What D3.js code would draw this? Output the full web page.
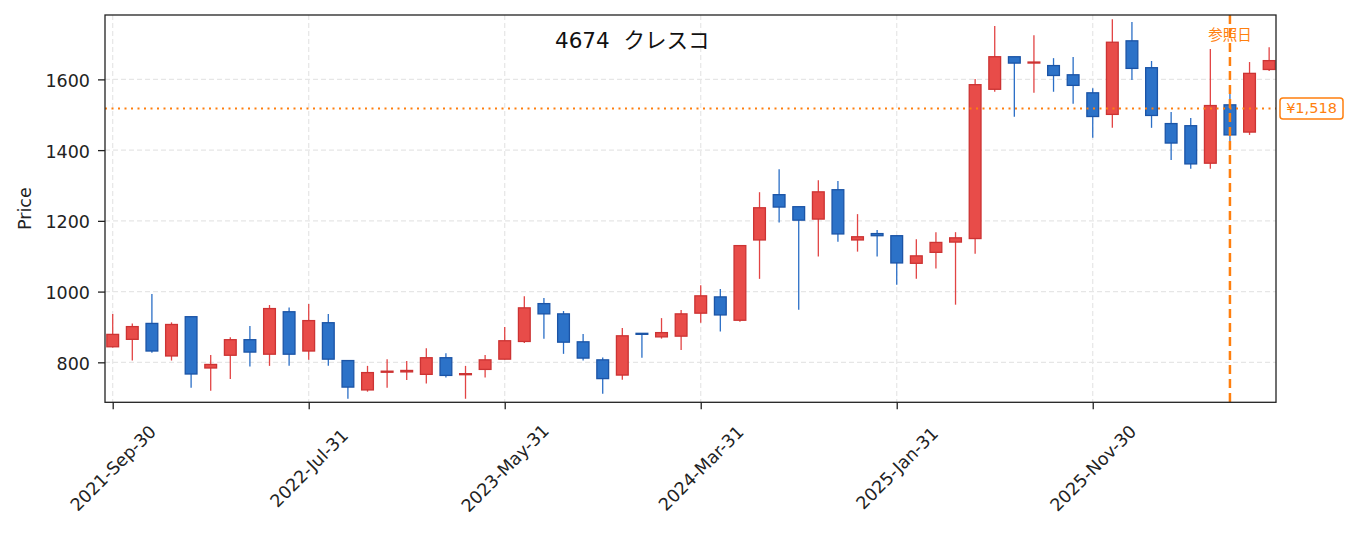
<!DOCTYPE html>
<html>
<head>
<meta charset="utf-8">
<script src="https://cdn.jsdelivr.net/npm/d3@7"></script>
<style>
  html, body { margin: 0; padding: 0; background: #fff; }
  svg { display: block; }
  text { font-family: "DejaVu Sans", "Noto Sans CJK JP", sans-serif; }
</style>
</head>
<body>
<svg id="chart" width="1355" height="533"></svg>
<script>
// ---- data (monthly candles) ----
const dates = [
  "2021-09-30","2021-10-31","2021-11-30","2021-12-31","2022-01-31","2022-02-28","2022-03-31","2022-04-30","2022-05-31","2022-06-30",
  "2022-07-31","2022-08-31","2022-09-30","2022-10-31","2022-11-30","2022-12-31","2023-01-31","2023-02-28","2023-03-31","2023-04-30",
  "2023-05-31","2023-06-30","2023-07-31","2023-08-31","2023-09-30","2023-10-31","2023-11-30","2023-12-31","2024-01-31","2024-02-29",
  "2024-03-31","2024-04-30","2024-05-31","2024-06-30","2024-07-31","2024-08-31","2024-09-30","2024-10-31","2024-11-30","2024-12-31",
  "2025-01-31","2025-02-28","2025-03-31","2025-04-30","2025-05-31","2025-06-30","2025-07-31","2025-08-31","2025-09-30","2025-10-31",
  "2025-11-30","2025-12-31","2026-01-31","2026-02-28","2026-03-31","2026-04-30","2026-05-31","2026-06-30","2026-07-31","2026-08-31"
];
const open = [844,865,910,818,929,784,820,864,823,943,
  832,912,805,722,772,773,766,813,765,780,
  809,859,966,937,858,807,764,882,872,874,
  939,985,919,1146,1274,1240,1205,1288,1146,1164,
  1158,1080,1111,1140,1150,1572,1664,1647,1639,1613,
  1562,1501,1709,1633,1475,1469,1363,1528,1451,1628];
const high = [937,910,993,913,929,821,871,903,962,955,
  965,937,805,790,809,804,840,826,790,821,
  900,987,982,945,880,814,897,882,925,948,
  1018,1007,1130,1281,1346,1240,1315,1313,1219,1174,
  1158,1148,1168,1168,1601,1751,1664,1725,1660,1663,
  1575,1770,1762,1652,1508,1491,1686,1560,1649,1691];
const low = [842,805,827,805,728,720,753,788,790,790,
  807,790,697,717,728,750,740,757,697,757,
  808,855,867,824,805,711,751,813,867,835,
  912,887,915,1036,1195,949,1099,1141,1113,1099,
  1019,1036,1065,963,1107,1565,1494,1562,1565,1531,
  1435,1463,1598,1463,1372,1347,1347,1419,1443,1624];
const close = [879,901,832,907,767,794,864,829,952,823,
  918,809,730,771,775,777,813,763,768,807,
  861,954,937,857,812,754,875,880,884,937,
  988,934,1130,1237,1239,1202,1282,1163,1155,1158,
  1081,1101,1139,1152,1585,1664,1646,1649,1611,1583,
  1495,1705,1631,1498,1420,1361,1526,1443,1617,1653];
const yTicks = [800, 1000, 1200, 1400, 1600];
const xTickIdx = [0, 10, 20, 30, 40, 50];
const refPrice = 1518;
const refDate = "2026-06-30";
const titleText = "4674\u00a0\u00a0クレスコ";

// ---- layout ----
const L = 105, R = 1276, T = 15, B = 402.3;
const svg = d3.select("#chart");
const parse = d3.timeParse("%Y-%m-%d");
const fmt = d3.timeFormat("%Y-%b-%d");

const x = d3.scaleLinear().domain([-0.393, 59.35]).range([L, R]);
const y = d3.scaleLinear().domain([687, 1782]).range([B, T]);
const step = x(1) - x(0);
const bw = step * 0.6;

const data = dates.map((d, i) => ({ i, d, o: open[i], h: high[i], l: low[i], c: close[i] }));

// grid
const grid = svg.append("g");
grid.selectAll("line.gy").data(yTicks).enter().append("line")
  .attr("x1", L).attr("x2", R).attr("y1", d => y(d)).attr("y2", d => y(d))
  .attr("stroke", "#e6e6e6").attr("stroke-width", 1.2).attr("stroke-dasharray", "5,3");
grid.selectAll("line.gx").data(xTickIdx).enter().append("line")
  .attr("y1", T).attr("y2", B).attr("x1", d => x(d)).attr("x2", d => x(d))
  .attr("stroke", "#e6e6e6").attr("stroke-width", 1.2).attr("stroke-dasharray", "5,3");

// candles
const upFill = "#e84c49", upEdge = "#cc3333", upWick = "#e24444";
const dnFill = "#2c72c8", dnEdge = "#1b54a6", dnWick = "#2a6ec6";
const cg = svg.append("g");
const cs = cg.selectAll("g.c").data(data).enter().append("g");
cs.append("line")
  .attr("x1", d => x(d.i)).attr("x2", d => x(d.i))
  .attr("y1", d => y(d.h)).attr("y2", d => y(d.l))
  .attr("stroke", d => d.c >= d.o ? upWick : dnWick).attr("stroke-width", 1.3);
cs.append("rect")
  .attr("x", d => x(d.i) - bw / 2).attr("width", bw)
  .attr("y", d => y(Math.max(d.o, d.c)))
  .attr("height", d => Math.max(1, y(Math.min(d.o, d.c)) - y(Math.max(d.o, d.c))))
  .attr("fill", d => d.c >= d.o ? upFill : dnFill)
  .attr("stroke", d => d.c >= d.o ? upEdge : dnEdge).attr("stroke-width", 1.3);

// reference lines
svg.append("line").attr("x1", L).attr("x2", R).attr("y1", y(refPrice)).attr("y2", y(refPrice))
  .attr("stroke", "#ff7f0e").attr("stroke-width", 2).attr("stroke-dasharray", "2,4.5");
const refIdx = dates.indexOf(refDate);
svg.append("line").attr("x1", x(refIdx)).attr("x2", x(refIdx)).attr("y1", T).attr("y2", B)
  .attr("stroke", "#ff7f0e").attr("stroke-width", 2.5).attr("stroke-dasharray", "9,5");
svg.append("text").attr("x", x(refIdx)).attr("y", 35).attr("text-anchor", "middle")
  .attr("dominant-baseline", "central").attr("fill", "#ff7f0e").attr("font-size", 14.5)
  .text("参照日");

// spines
svg.append("rect").attr("x", L).attr("y", T).attr("width", R - L).attr("height", B - T)
  .attr("fill", "none").attr("stroke", "#222").attr("stroke-width", 1.3);

// y axis
const yAxis = svg.append("g").attr("transform", `translate(${L},0)`)
  .call(d3.axisLeft(y).tickValues(yTicks).tickSize(7).tickPadding(8).tickFormat(d3.format("d")));
yAxis.select(".domain").remove();
yAxis.selectAll(".tick line").attr("stroke", "#222").attr("stroke-width", 1.3);
yAxis.selectAll(".tick text").attr("font-size", 17.5).attr("fill", "#222")
  .attr("font-family", "DejaVu Sans, Noto Sans CJK JP, sans-serif").attr("dy", "0.4em");

// x axis
const xAxis = svg.append("g").attr("transform", `translate(0,${B})`)
  .call(d3.axisBottom(x).tickValues(xTickIdx).tickSize(7).tickFormat(i => fmt(parse(dates[i]))));
xAxis.select(".domain").remove();
xAxis.selectAll(".tick line").attr("stroke", "#222").attr("stroke-width", 1.3);
xAxis.selectAll(".tick text").attr("font-size", 17.5).attr("fill", "#222")
  .attr("font-family", "DejaVu Sans, Noto Sans CJK JP, sans-serif")
  .attr("text-anchor", "middle").attr("dominant-baseline", "central")
  .attr("y", 0).attr("dy", 0)
  .attr("transform", "translate(0,66) rotate(-45)");

// y label
svg.append("text").attr("transform", `translate(31,${(T + B) / 2}) rotate(-90)`)
  .attr("text-anchor", "middle").attr("font-size", 17.5).attr("fill", "#222").text("Price");

// title
svg.append("text").attr("x", 555).attr("y", 48).attr("font-size", 21.5).attr("fill", "#111")
  .text(titleText);

// price label box
const lg = svg.append("g").attr("transform", `translate(1280,${y(refPrice)})`);
lg.append("rect").attr("x", 0).attr("y", -10.5).attr("width", 63).attr("height", 21).attr("rx", 3)
  .attr("fill", "#fff").attr("stroke", "#ff7f0e").attr("stroke-width", 1.5);
lg.append("text").attr("x", 31.5).attr("y", 0).attr("text-anchor", "middle")
  .attr("dominant-baseline", "central").attr("font-size", 14.5).attr("fill", "#ff7f0e")
  .text("¥" + d3.format(",")(refPrice));
</script>
</body>
</html>
